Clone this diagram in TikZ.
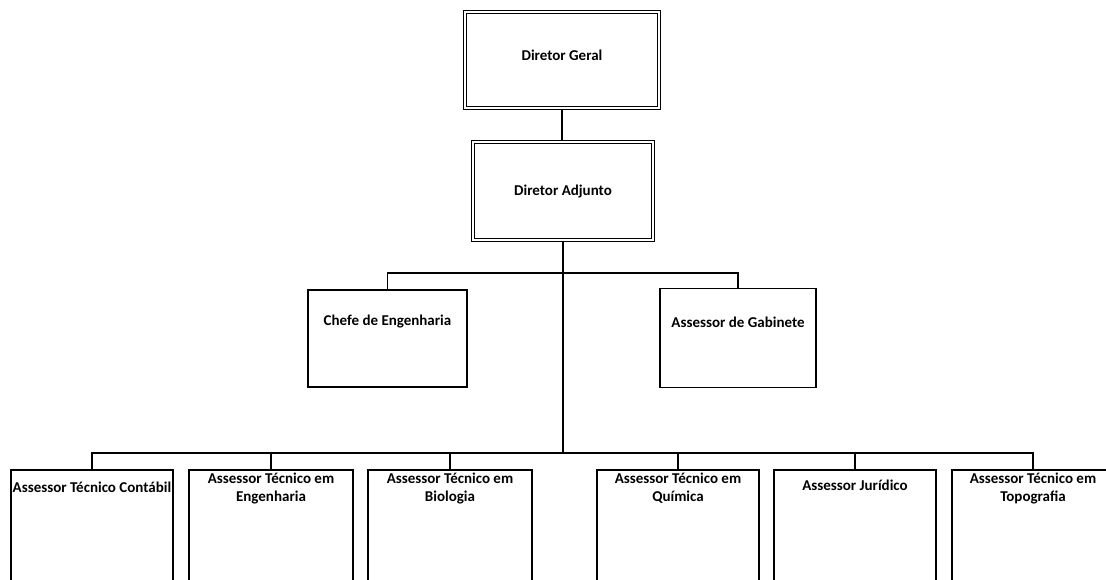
\documentclass[tikz,border=0pt]{standalone}
\usepackage{fontspec}
\setmainfont{Carlito}
\begin{document}
\begin{tikzpicture}[x=1pt,y=-1pt,
  box/.style={draw, line width=1.6pt, inner sep=0pt},
  dbox/.style={draw, line width=1.2pt, double, double distance=2.4pt, inner sep=0pt},
  lbl/.style={font=\bfseries\fontsize{15}{18}\selectfont, align=center, inner sep=0pt},
  conn/.style={line width=1.8pt}]
\useasboundingbox (0,0) rectangle (1106,580);
\begin{scope}
\clip (0,0) rectangle (1106,580);
% top
\node[dbox, minimum width=194pt, minimum height=96pt] (dg) at (562,60) {};
\node[lbl] (dgt) at (562,55) {Diretor Geral};
\node[dbox, minimum width=180pt, minimum height=98pt] (da) at (563,191) {};
\node[lbl] (dat) at (563,192) {Diretor Adjunto};
% middle
\node[box, minimum width=159pt, minimum height=97pt] (ch) at (387.5,338.5) {};
\node[lbl] (cht) at (387.5,322) {Chefe de Engenharia};
\node[box, minimum width=156pt, minimum height=99pt] (gab) at (738,338) {};
\node[lbl] (gabt) at (738,322) {Assessor de Gabinete};
% bottom
\node[box, minimum width=162pt, minimum height=150pt] (b1) at (92,545) {};
\node[box, minimum width=164pt, minimum height=150pt] (b2) at (271,545) {};
\node[box, minimum width=164pt, minimum height=150pt] (b3) at (450,545) {};
\node[box, minimum width=162pt, minimum height=150pt] (b4) at (678,545) {};
\node[box, minimum width=162pt, minimum height=150pt] (b5) at (855,545) {};
\node[box, minimum width=162pt, minimum height=150pt] (b6) at (1033,545) {};
\node[lbl] (b1t) at (92,487) {Assessor Técnico Contábil};
\node[lbl] (b2t) at (271,488.5) {Assessor Técnico em\\Engenharia};
\node[lbl] (b3t) at (450,488.5) {Assessor Técnico em\\Biologia};
\node[lbl] (b4t) at (678,488.5) {Assessor Técnico em\\Química};
\node[lbl] (b5t) at (855,485) {Assessor Jurídico};
\node[lbl] (b6t) at (1033,488.5) {Assessor Técnico em\\Topografia};
% connectors
\coordinate (j1) at (563,273);
\coordinate (j2) at (563,453);
\draw[conn] (dg.south) -- (dg.south |- da.north);
\draw[conn] (da.south) -- (j2);
\draw[conn] (ch.north) -- (ch.north |- j1) -- (gab.north |- j1) -- (gab.north);
\draw[conn] (b1.north) -- (b1.north |- j2) -- (b6.north |- j2) -- (b6.north);
\foreach \b in {b2,b3,b4,b5} {\draw[conn] (\b.north) -- (\b.north |- j2);}
\end{scope}
\end{tikzpicture}
\end{document}
